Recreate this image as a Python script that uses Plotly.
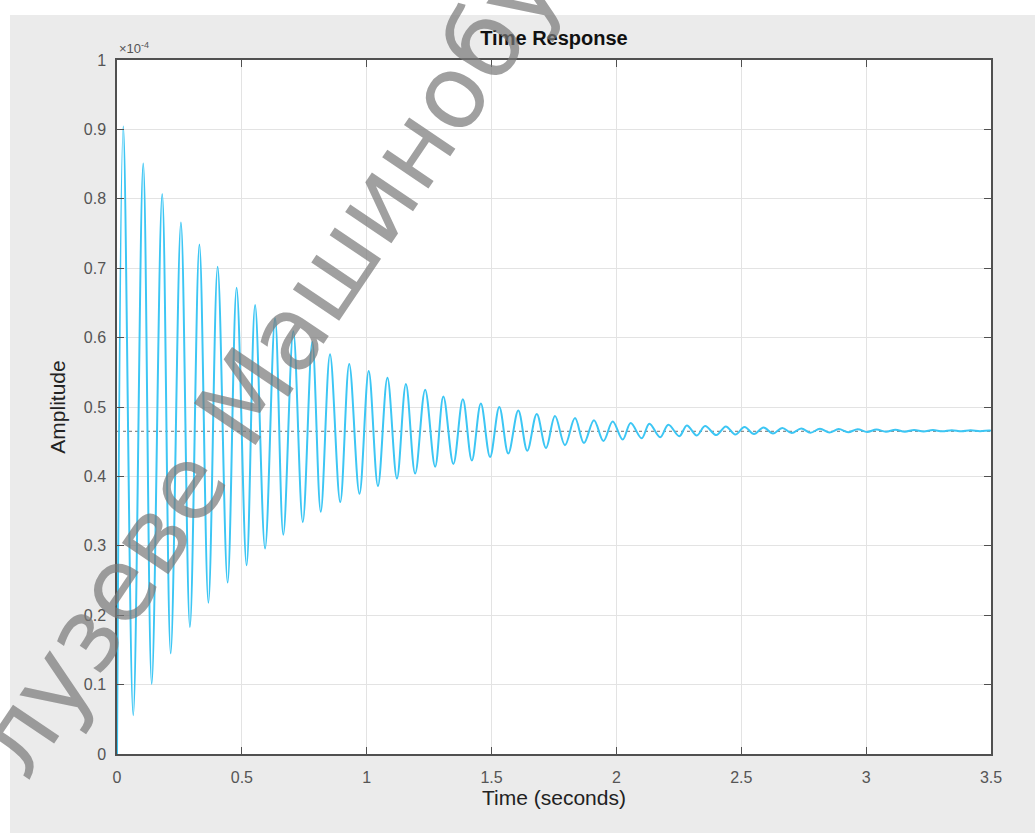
import plotly.graph_objects as go

# Step response extremes (time in seconds, amplitude in units of 1e-4)
peak_t = [0.025, 0.105, 0.181, 0.256, 0.330, 0.403, 0.479, 0.553, 0.633, 0.706,
          0.782, 0.853, 0.930, 1.008, 1.083, 1.157, 1.234, 1.307,
          1.385, 1.457, 1.531, 1.607, 1.681, 1.754, 1.834, 1.910, 1.985, 2.057,
          2.132, 2.208, 2.282, 2.355,
          2.438, 2.513, 2.589, 2.664, 2.740, 2.815, 2.890, 2.966, 3.041, 3.117,
          3.192, 3.267, 3.343, 3.418, 3.494]
peak_v = [0.904, 0.851, 0.807, 0.766, 0.734, 0.702, 0.672, 0.647, 0.628, 0.609,
          0.594, 0.576, 0.562, 0.552, 0.542, 0.533, 0.525, 0.515,
          0.511, 0.505, 0.500, 0.495, 0.490, 0.487, 0.484, 0.481, 0.479, 0.477,
          0.476, 0.4745, 0.4735, 0.4725,
          0.4720, 0.4712, 0.4705, 0.4698, 0.4692, 0.4687, 0.4682, 0.4678, 0.4675,
          0.4672, 0.4669, 0.4667, 0.4665, 0.4664, 0.4663]
trough_t = [0.065, 0.139, 0.215, 0.292, 0.366, 0.443, 0.519, 0.593, 0.666, 0.744,
            0.816, 0.894, 0.971, 1.045, 1.121, 1.194, 1.274,
            1.347, 1.421, 1.494, 1.567, 1.643, 1.718, 1.794, 1.870, 1.948, 2.025,
            2.101, 2.175, 2.252, 2.322,
            2.400, 2.476, 2.551, 2.627, 2.702, 2.777, 2.853, 2.928, 3.004, 3.079,
            3.155, 3.230, 3.305, 3.381, 3.456]
trough_v = [0.056, 0.101, 0.145, 0.183, 0.218, 0.247, 0.272, 0.296, 0.316, 0.334,
            0.349, 0.363, 0.375, 0.386, 0.397, 0.404, 0.414,
            0.418, 0.423, 0.428, 0.433, 0.437, 0.441, 0.445, 0.448, 0.451, 0.453,
            0.455, 0.4565, 0.458, 0.459, 0.4595,
            0.4603, 0.4611, 0.4618, 0.4624, 0.4629, 0.4633, 0.4637, 0.4640, 0.4643,
            0.4645, 0.4647, 0.4649, 0.4650, 0.4651]
start = (0.0, 0.0)
end = (3.5, 0.4657)
steady_state = 0.465

x_ticks = [0, 0.5, 1, 1.5, 2, 2.5, 3, 3.5]
x_tick_labels = ["0", "0.5", "1", "1.5", "2", "2.5", "3", "3.5"]
y_ticks = [0, 0.1, 0.2, 0.3, 0.4, 0.5, 0.6, 0.7, 0.8, 0.9, 1]
y_tick_labels = ["0", "0.1", "0.2", "0.3", "0.4", "0.5", "0.6", "0.7", "0.8", "0.9", "1"]

# merge extremes into one time-ordered series
pts = [start] + list(zip(peak_t, peak_v)) + list(zip(trough_t, trough_v)) + [end]
pts.sort(key=lambda p: p[0])
t = [p[0] for p in pts]
v = [p[1] for p in pts]

W, H = 1035, 833
ML, MR, MT, MB = 117, 44, 60, 79
PW, PH = W - ML - MR, H - MT - MB
FONT = "Liberation Sans, Arial, sans-serif"


def px(xp):
    return (xp - ML) / PW


def py(yp):
    return (H - MB - yp) / PH


fig = go.Figure()
fig.add_trace(go.Scatter(
    x=[0, 3.5], y=[steady_state, steady_state], mode="lines",
    line=dict(color="#707070", width=1, dash="dot"),
    hoverinfo="skip", showlegend=False))
fig.add_trace(go.Scatter(
    x=t, y=v, mode="lines",
    line=dict(color="#3cc6f4", width=2, shape="spline", smoothing=1.0),
    showlegend=False))

axis_common = dict(
    showline=True, linecolor="#505050", linewidth=1.5, mirror="ticks",
    ticks="inside", ticklen=7, tickcolor="#505050", tickwidth=1,
    showgrid=True, gridcolor="#e3e3e3", gridwidth=1, zeroline=False,
    tickfont=dict(family=FONT, size=16, color="#555555"),
)

fig.update_xaxes(range=[0, 3.5], tickvals=x_ticks, ticktext=x_tick_labels,
                 ticklabelstandoff=8,
                 title=dict(text="Time (seconds)", standoff=4,
                            font=dict(family=FONT, size=21, color="#222222")),
                 **axis_common)
fig.update_yaxes(range=[0, 1], tickvals=y_ticks, ticktext=y_tick_labels,
                 ticklabelstandoff=6,
                 title=dict(text="Amplitude", standoff=12,
                            font=dict(family=FONT, size=21, color="#222222")),
                 **axis_common)

fig.update_layout(
    width=W, height=H,
    margin=dict(l=ML, r=MR, t=MT, b=MB),
    paper_bgcolor="#ebebeb", plot_bgcolor="white",
    title=dict(text="<b>Time Response</b>", xref="paper", x=0.5, xanchor="center",
               yref="container", y=1 - 38 / H, yanchor="middle",
               font=dict(family=FONT, size=20, color="#111111")),
    shapes=[
        # white strips at the top and left edges of the page
        dict(type="rect", xref="paper", yref="paper", layer="below",
             x0=px(0), x1=px(W), y0=py(15), y1=py(0),
             fillcolor="white", line=dict(width=0)),
        dict(type="rect", xref="paper", yref="paper", layer="below",
             x0=px(0), x1=px(10), y0=py(H), y1=py(0),
             fillcolor="white", line=dict(width=0)),
    ],
    annotations=[
        dict(text="×10<sup>-4</sup>", xref="paper", yref="paper",
             x=px(117), y=py(58), xanchor="left", yanchor="bottom",
             showarrow=False,
             font=dict(family=FONT, size=13, color="#555555")),
        dict(text="лузеве Машинобу", xref="paper", yref="paper",
             x=px(266), y=py(365), xanchor="center", yanchor="middle",
             textangle=-56, showarrow=False,
             font=dict(family="DejaVu Sans, sans-serif", size=102,
                       color="rgba(120,120,120,0.7)")),
    ],
)

fig.write_html("out.html")
